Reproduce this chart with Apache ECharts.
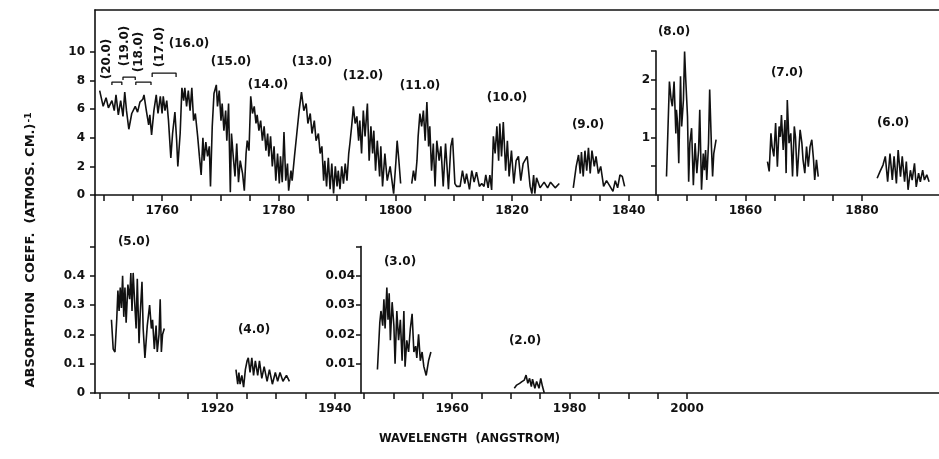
<!DOCTYPE html>
<html>
<head>
<meta charset="utf-8">
<script src="https://cdn.jsdelivr.net/npm/echarts@6/dist/echarts.min.js"></script>
<style>
html, body { margin: 0; padding: 0; background: #fff; }
#chart { width: 939px; height: 459px; }
</style>
</head>
<body>
<div id="chart"></div>
<script>
// bands (20.0) .. (12.0), left scale
const bandsHigh = [
  [1749.3,7.3],[1749.9,6.2],[1750.4,6.8],[1750.8,6.1],[1751.4,6.6],[1751.8,5.9],[1752.1,7.0],[1752.5,5.6],
  [1752.9,6.6],[1753.3,5.5],[1753.6,7.2],[1753.9,5.9],[1754.3,4.6],[1754.8,5.7],[1755.4,6.2],[1755.8,5.8],
  [1756.2,6.5],[1756.7,6.7],[1756.9,7.0],[1757.3,5.9],[1757.7,4.9],[1757.9,5.6],[1758.2,4.2],[1758.6,5.9],
  [1759.0,7.0],[1759.3,5.7],[1759.7,6.9],[1760.0,5.7],[1760.2,6.9],[1760.5,5.9],[1760.8,6.6],[1761.1,5.2],
  [1761.5,2.6],[1761.8,4.3],[1762.2,5.8],[1762.5,3.8],[1762.7,2.0],[1763.1,4.3],[1763.4,7.5],[1763.7,6.6],
  [1763.9,7.5],[1764.2,6.2],[1764.5,7.3],[1764.8,5.9],[1765.1,7.5],[1765.4,5.2],[1765.7,5.7],[1766.1,4.1],
  [1766.4,2.7],[1766.7,1.4],[1767.0,4.0],[1767.2,2.4],[1767.5,3.7],[1767.8,2.7],[1768.1,3.4],[1768.3,0.6],
  [1768.6,4.8],[1768.9,7.1],[1769.3,7.7],[1769.5,6.2],[1769.8,7.3],[1770.1,5.2],[1770.3,6.4],[1770.6,4.5],
  [1770.9,5.9],[1771.1,3.8],[1771.4,6.4],[1771.7,0.2],[1771.9,4.3],[1772.2,2.7],[1772.5,1.3],[1772.8,3.6],
  [1773.1,0.9],[1773.4,2.4],[1773.8,1.5],[1774.1,0.3],[1774.4,2.9],[1774.6,3.8],[1774.9,3.1],[1775.2,6.9],
  [1775.5,5.7],[1775.8,6.2],[1776.1,5.0],[1776.3,5.6],[1776.6,4.5],[1776.9,5.2],[1777.2,3.8],[1777.5,4.8],
  [1777.8,3.1],[1778.1,4.3],[1778.3,2.7],[1778.6,4.1],[1778.9,2.0],[1779.2,3.4],[1779.5,1.0],[1779.8,2.9],
  [1780.1,0.8],[1780.3,2.7],[1780.6,0.9],[1780.9,4.4],[1781.2,1.0],[1781.5,2.2],[1781.7,0.3],[1782.1,1.7],
  [1782.3,1.0],[1782.7,2.7],[1783.1,4.3],[1783.5,5.9],[1783.9,7.2],[1784.3,5.9],[1784.7,6.4],[1785.0,5.0],
  [1785.4,5.7],[1785.7,4.3],[1786.1,5.2],[1786.4,3.8],[1786.8,4.3],[1787.1,2.9],[1787.4,3.4],[1787.7,1.0],
  [1787.9,2.4],[1788.2,0.6],[1788.5,2.6],[1788.8,0.4],[1789.1,2.2],[1789.4,0.1],[1789.7,2.0],[1790.0,0.6],
  [1790.2,1.7],[1790.5,0.4],[1790.8,2.0],[1791.1,0.8],[1791.4,2.2],[1791.7,1.0],[1792.0,2.9],[1792.2,3.6],
  [1792.5,4.8],[1792.8,6.2],[1793.1,5.0],[1793.4,5.5],[1793.7,3.8],[1793.9,5.2],[1794.2,2.9],[1794.5,5.9],
  [1794.8,4.1],[1795.2,6.4],[1795.5,2.4],[1795.8,4.8],[1796.1,2.9],[1796.3,4.5],[1796.6,1.7],[1796.9,3.8],
  [1797.3,1.3],[1797.5,3.4],[1797.8,0.6],[1798.2,2.9],[1798.6,1.0],[1799.1,2.0],[1799.7,0.1],[1800.1,2.4],
  [1800.3,3.8],[1800.6,2.4],[1800.9,0.8]
];
// bands (11.0) and (10.0)
const bands11to10 = [
  [1802.8,0.8],[1803.1,1.7],[1803.4,1.0],[1803.7,2.4],[1803.9,4.1],[1804.2,5.7],[1804.5,4.8],[1804.8,5.9],
  [1805.1,3.8],[1805.4,6.5],[1805.7,3.4],[1805.9,4.8],[1806.2,1.7],[1806.5,3.6],[1806.8,0.6],[1807.1,3.8],
  [1807.5,2.4],[1807.8,3.4],[1808.2,0.6],[1808.6,3.6],[1809.1,0.4],[1809.5,3.4],[1809.8,4.0],[1810.2,0.8],
  [1810.5,0.6],[1811.1,0.6],[1811.5,1.7],[1811.9,0.8],[1812.2,1.5],[1812.7,0.4],[1813.1,1.7],[1813.5,0.9],
  [1813.9,1.6],[1814.4,0.6],[1814.8,0.8],[1815.2,0.6],[1815.5,1.4],[1815.9,0.5],[1816.2,1.4],[1816.5,0.35],
  [1816.8,4.1],[1817.1,2.9],[1817.4,4.8],[1817.7,2.4],[1817.9,5.0],[1818.2,2.7],[1818.5,5.1],[1818.9,1.7],
  [1819.2,3.8],[1819.5,1.3],[1819.9,3.1],[1820.3,0.8],[1820.7,2.4],[1821.1,2.7],[1821.5,1.0],[1821.9,2.2],
  [1822.6,2.7],[1823.1,0.6],[1823.4,0.1],[1823.7,1.4],[1823.9,0.1],[1824.2,1.2],[1824.8,0.5],[1825.5,0.9],
  [1826.1,0.5],[1826.6,0.9],[1827.4,0.5],[1828.1,0.8]
];
const band9 = [
  [1830.5,0.5],[1831.0,2.0],[1831.4,2.8],[1831.7,1.5],[1831.9,3.0],[1832.2,1.3],[1832.5,3.1],[1832.8,1.7],
  [1833.1,3.3],[1833.4,1.5],[1833.7,3.1],[1834.1,2.0],[1834.4,2.7],[1834.8,1.5],[1835.2,2.0],[1835.7,0.6],
  [1836.2,1.0],[1836.8,0.6],[1837.3,0.25],[1837.7,1.0],[1838.1,0.5],[1838.5,1.4],[1838.9,1.3],[1839.3,0.6]
];
// right scale, top panel
const band8 = [
  [1846.5,0.32],[1847.0,1.97],[1847.3,1.65],[1847.5,1.54],[1847.8,1.97],[1848.1,1.07],[1848.2,1.48],[1848.4,1.25],
  [1848.6,0.55],[1848.9,2.06],[1849.1,1.19],[1849.4,1.65],[1849.6,2.49],[1849.8,2.0],[1850.1,1.36],[1850.3,0.23],
  [1850.5,0.9],[1850.8,1.16],[1851.1,0.17],[1851.4,0.9],[1851.7,0.38],[1852.0,0.78],[1852.2,1.48],[1852.5,0.09],
  [1852.8,0.72],[1853.0,0.43],[1853.2,0.78],[1853.4,0.26],[1853.7,0.9],[1853.9,1.83],[1854.2,0.84],[1854.4,0.32],
  [1854.6,0.72],[1855.0,0.96]
];
const band7 = [
  [1863.8,0.58],[1864.1,0.41],[1864.4,1.07],[1864.6,0.84],[1864.9,0.67],[1865.2,1.25],[1865.5,0.49],[1865.8,1.19],
  [1866.0,1.01],[1866.2,1.39],[1866.5,0.78],[1866.8,1.30],[1867.0,0.38],[1867.2,1.65],[1867.5,0.9],[1867.8,1.07],
  [1868.1,0.32],[1868.4,1.19],[1868.6,1.01],[1868.9,0.32],[1869.4,1.13],[1869.7,0.9],[1869.9,0.61],[1870.2,0.38],
  [1870.5,0.84],[1870.8,0.49],[1871.1,0.84],[1871.4,0.96],[1871.7,0.61],[1871.9,0.26],[1872.2,0.61],[1872.5,0.32]
];
const band6 = [
  [1882.6,0.29],[1883.1,0.41],[1883.6,0.52],[1884.0,0.67],[1884.4,0.23],[1884.8,0.72],[1885.2,0.26],[1885.5,0.67],
  [1885.9,0.2],[1886.2,0.78],[1886.6,0.32],[1886.9,0.67],[1887.3,0.23],[1887.6,0.58],[1887.9,0.09],[1888.3,0.43],
  [1888.6,0.26],[1889.0,0.55],[1889.3,0.14],[1889.7,0.38],[1890.0,0.23],[1890.4,0.43],[1890.7,0.26],[1891.1,0.35],
  [1891.5,0.23]
];
// bottom panel, left scale
const band5 = [
  [1902.0,0.25],[1902.3,0.15],[1902.6,0.14],[1902.9,0.25],[1903.1,0.35],[1903.3,0.28],[1903.5,0.36],[1903.7,0.29],
  [1903.9,0.40],[1904.1,0.26],[1904.3,0.36],[1904.5,0.24],[1904.8,0.37],[1905.1,0.32],[1905.3,0.41],[1905.5,0.28],
  [1905.7,0.41],[1905.9,0.33],[1906.2,0.22],[1906.4,0.39],[1906.7,0.17],[1906.9,0.27],[1907.2,0.38],[1907.4,0.22],
  [1907.7,0.12],[1908.1,0.23],[1908.5,0.30],[1908.8,0.22],[1909.0,0.25],[1909.3,0.15],[1909.6,0.23],[1909.8,0.14],
  [1910.1,0.20],[1910.3,0.32],[1910.5,0.14],[1910.7,0.20],[1911.0,0.22]
];
const band4 = [
  [1923.2,0.08],[1923.5,0.03],[1923.7,0.07],[1923.9,0.03],[1924.2,0.06],[1924.5,0.02],[1924.8,0.08],[1925.1,0.11],
  [1925.3,0.12],[1925.6,0.07],[1925.9,0.12],[1926.2,0.06],[1926.5,0.11],[1926.9,0.06],[1927.2,0.11],[1927.6,0.05],
  [1928.0,0.09],[1928.5,0.04],[1928.9,0.08],[1929.4,0.03],[1929.9,0.07],[1930.3,0.04],[1930.7,0.07],[1931.2,0.04],
  [1931.8,0.06],[1932.3,0.04]
];
// bottom panel, right scale
const band3 = [
  [1947.3,0.008],[1947.7,0.024],[1947.9,0.028],[1948.2,0.023],[1948.4,0.032],[1948.6,0.022],[1948.9,0.036],[1949.1,0.025],
  [1949.3,0.034],[1949.5,0.018],[1949.8,0.031],[1950.1,0.023],[1950.3,0.010],[1950.6,0.028],[1950.9,0.018],[1951.2,0.025],
  [1951.5,0.011],[1951.8,0.028],[1952.0,0.009],[1952.3,0.018],[1952.6,0.014],[1952.9,0.022],[1953.2,0.027],[1953.5,0.014],
  [1953.8,0.016],[1954.0,0.012],[1954.3,0.020],[1954.6,0.011],[1954.9,0.014],[1955.2,0.009],[1955.6,0.006],[1956.0,0.011],
  [1956.4,0.014]
];
const band2 = [
  [1970.6,0.0016],[1971.0,0.0027],[1971.5,0.0033],[1971.9,0.0039],[1972.3,0.0044],[1972.6,0.0061],[1972.9,0.0033],[1973.2,0.005],
  [1973.5,0.0022],[1973.7,0.0047],[1974.1,0.0016],[1974.4,0.0039],[1974.8,0.0016],[1975.1,0.005],[1975.4,0.0022],[1975.7,0.0]
];

// band labels: [text, wavelength, value on that panel's scale]
const topLabels = [['(16.0)',1764.6,10.56],['(15.0)',1771.8,9.30],['(14.0)',1778.2,7.69],['(13.0)',1785.7,9.30],
  ['(12.0)',1794.5,8.32],['(11.0)',1804.2,7.62],['(10.0)',1819.1,6.78],['(9.0)',1833.0,4.90],['(8.0)',1847.8,11.40]];
const topUprightLabels = [['(20.0)',1750.6,9.51],['(19.0)',1753.6,10.42],['(18.0)',1756.1,10.03],['(17.0)',1759.6,10.38]];
const brackets = [[1751.4,1753.1,7.90,7.69],[1753.3,1755.4,8.25,8.04],[1755.5,1758.1,7.90,7.69],[1758.3,1762.4,8.53,8.25]];
const rightLabels = [['(7.0)',1867.1,2.12],['(6.0)',1885.3,1.25]];
const bottomLabels = [['(5.0)',1905.9,0.515],['(4.0)',1926.3,0.215]];
const bottomRightLabels = [['(3.0)',1951.1,0.0447],['(2.0)',1972.4,0.0177]];

// ticks and tick labels
const topXLabels = [1760, 1780, 1800, 1820, 1840, 1860, 1880];
const bottomXLabels = [1920, 1940, 1960, 1980, 2000];
const topYLabels = [0, 2, 4, 6, 8, 10];
const rightYTicks = [0.5, 1, 1.5, 2, 2.5];
const rightYLabels = [1, 2];
const bottomYTicks = [0, 0.1, 0.2, 0.3, 0.4, 0.5];
const bottomYLabels = [0, 0.1, 0.2, 0.3, 0.4];
const bottomRightYTicks = [0.01, 0.02, 0.03, 0.04, 0.05];
const bottomRightYLabels = [0.01, 0.02, 0.03, 0.04];

const topXTicks = [];
for (let w = 1750; w <= 1880; w += 5) topXTicks.push(w);
const bottomXTicks = [];
for (let w = 1900; w <= 2000; w += 5) bottomXTicks.push(w);

const ink = '#111';
const fam = 'DejaVu Sans';
const lineOpt = { show: true, lineStyle: { color: ink, width: 1.6 } };
const labelFont = { color: ink, fontFamily: fam, fontWeight: 'bold', fontSize: 12 };

function xAxisOf(grid, min, max, ticks, labels) {
  return {
    type: 'value', gridIndex: grid, min: min, max: max, position: 'bottom',
    axisLine: Object.assign({ onZero: false }, lineOpt),
    axisTick: { show: true, length: 6, customValues: ticks, lineStyle: { color: ink, width: 1.5 } },
    axisLabel: Object.assign({ margin: 10, customValues: labels, formatter: v => String(v) }, labelFont),
    splitLine: { show: false }
  };
}
function hiddenX(grid, min, max) {
  return { type: 'value', gridIndex: grid, min: min, max: max, show: false, splitLine: { show: false } };
}
function yAxisOf(grid, max, ticks, labels, margin) {
  return {
    type: 'value', gridIndex: grid, min: 0, max: max,
    axisLine: Object.assign({ onZero: false }, lineOpt),
    axisTick: { show: true, length: 5, customValues: ticks, lineStyle: { color: ink, width: 1.5 } },
    axisLabel: Object.assign({ margin: margin, customValues: labels, formatter: v => String(v) }, labelFont),
    splitLine: { show: false }
  };
}
function trace(data, xi, yi) {
  return {
    type: 'line', xAxisIndex: xi, yAxisIndex: yi, data: data, symbol: 'none',
    lineStyle: { color: ink, width: 1.6 }, z: 3
  };
}
// band names drawn at their data position, snapped to whole pixels so they stay crisp
function labelSeries(list, xi, yi, rotate) {
  return {
    type: 'custom', xAxisIndex: xi, yAxisIndex: yi, silent: true, clip: false,
    data: list.map(d => [d[1], d[2]]),
    renderItem: (params, api) => {
      const p = api.coord([api.value(0), api.value(1)]);
      return {
        type: 'text', x: Math.round(p[0]), y: Math.round(p[1]),
        rotation: rotate ? Math.PI / 2 : 0,
        style: {
          text: list[params.dataIndex][0], fill: ink,
          font: 'bold 12px "DejaVu Sans"', align: 'center', verticalAlign: 'middle'
        }
      };
    }
  };
}

const chart = echarts.init(document.getElementById('chart'), null, { renderer: 'canvas' });

const series = [
  trace(bandsHigh, 0, 0),
  trace(bands11to10, 0, 0),
  trace(band9, 0, 0),
  trace(band8, 2, 1),
  trace(band7, 2, 1),
  trace(band6, 2, 1),
  trace(band5, 3, 2),
  trace(band4, 3, 2),
  trace(band3, 4, 3),
  trace(band2, 4, 3),
  labelSeries(topLabels, 0, 0),
  labelSeries(topUprightLabels, 0, 0, true),
  labelSeries(rightLabels, 2, 1),
  labelSeries(bottomLabels, 3, 2),
  labelSeries(bottomRightLabels, 4, 3)
];
brackets.forEach(b => {
  series.push({
    type: 'line', xAxisIndex: 0, yAxisIndex: 0, symbol: 'none',
    data: [[b[0], b[3]], [b[0], b[2]], [b[1], b[2]], [b[1], b[3]]],
    lineStyle: { color: ink, width: 1.3 }
  });
});

chart.setOption({
  animation: false,
  backgroundColor: '#fff',
  title: {
    text: 'WAVELENGTH  (ANGSTROM)', left: 'center', top: 428,
    textStyle: { color: ink, fontFamily: fam, fontWeight: 'bold', fontSize: 11.5 }
  },
  graphic: [{
    type: 'text', x: 31, y: 250, rotation: Math.PI / 2,
    style: {
      text: '{m|ABSORPTION  COEFF.  (ATMOS. CM.)}{s|-1}',
      align: 'center', verticalAlign: 'middle', fill: ink,
      rich: {
        m: { fontFamily: fam, fontWeight: 'bold', fontSize: 13, fill: ink },
        s: { fontFamily: fam, fontWeight: 'bold', fontSize: 9, fill: ink, verticalAlign: 'top', padding: [0, 0, 0, 1] }
      }
    }
  }],
  grid: [
    { left: 95, top: 10, right: 0, height: 185 },
    { left: 656, top: 51, right: 0, height: 144 },
    { left: 95, top: 195, right: 0, height: 198 },
    { left: 361, top: 246.5, right: 0, height: 146.5 }
  ],
  xAxis: [
    xAxisOf(0, 1748.5, 1893.2, topXTicks, topXLabels),
    {
      type: 'value', gridIndex: 0, min: 1748.5, max: 1893.2, position: 'top',
      axisLine: Object.assign({ onZero: false }, lineOpt),
      axisTick: { show: false }, axisLabel: { show: false }, splitLine: { show: false }
    },
    hiddenX(1, 1844.7, 1893.2),
    xAxisOf(2, 1899.2, 2042.9, bottomXTicks, bottomXLabels),
    hiddenX(3, 1944.5, 2042.9)
  ],
  yAxis: [
    yAxisOf(0, 12.94, topYLabels, topYLabels, 10),
    yAxisOf(1, 2.5, rightYTicks, rightYLabels, 6),
    yAxisOf(2, 0.676, bottomYTicks, bottomYLabels, 10),
    yAxisOf(3, 0.05, bottomRightYTicks, bottomRightYLabels, 6)
  ],
  series: series
});
</script>
</body>
</html>
